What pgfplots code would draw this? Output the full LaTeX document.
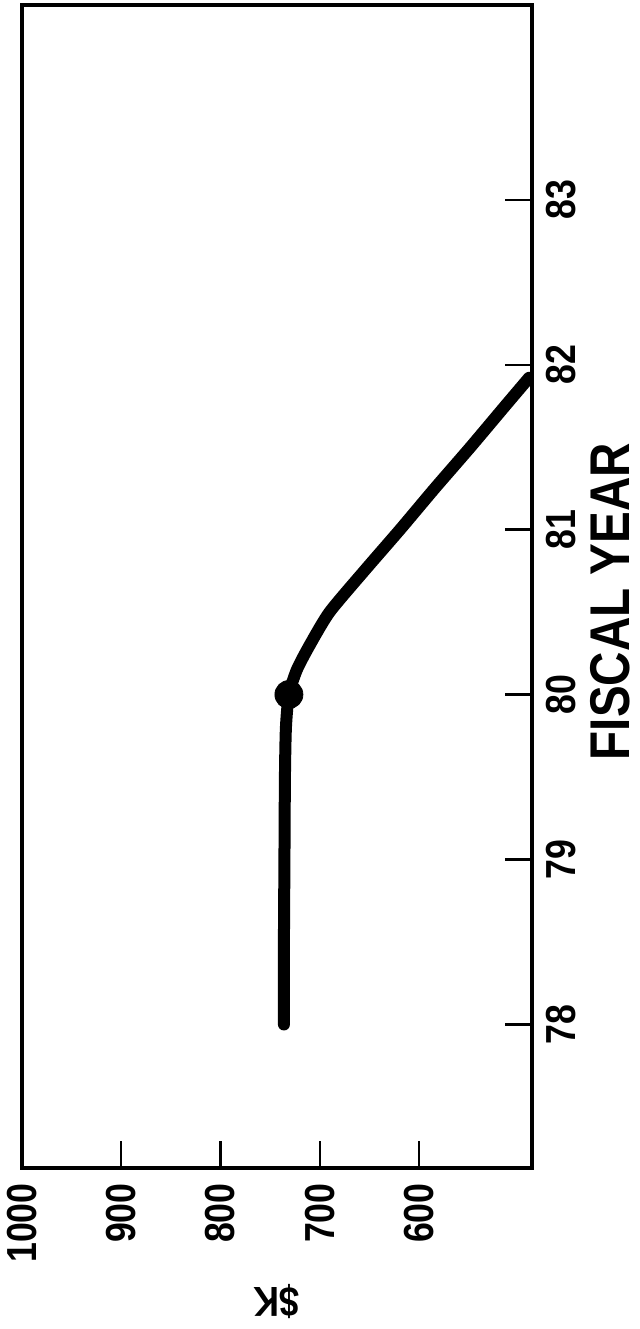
\documentclass[border=0pt]{standalone}
\usepackage{fontspec}
\setmainfont{Liberation Sans}[FakeStretch=0.85]
\usepackage{pgfplots}
\pgfplotsset{compat=1.18}

\begin{document}
\begin{tikzpicture}
% page is turned a quarter turn: $K runs left-right (reversed), fiscal year runs up
\begin{axis}[
	scale only axis,
	width=255pt, height=581.5pt,
	x dir=reverse,
	xmin=486, xmax=1000,
	ymin=77.13, ymax=84.18,
	xtick={600,700,800,900,1000},
	ytick={78,79,80,81,82,83},
	xtick pos=bottom, ytick pos=right,
	tick align=inside,
	major tick length=13.5pt,
	every tick/.style={line width=1.1pt, black},
	axis line style={line width=1.6pt},
	/pgf/number format/assume math mode=true,
	/pgf/number format/1000 sep={},
	xticklabel style={font=\fontsize{21}{21}\selectfont\bfseries, rotate=90, anchor=east, inner sep=0pt, xshift=-7.5pt},
	yticklabel style={font=\fontsize{21}{21}\selectfont\bfseries, rotate=90, anchor=north, inner sep=0pt, yshift=-7pt},
	yticklabel pos=right,
	xlabel={\$K},
	xlabel style={font=\fontsize{21}{21}\selectfont\bfseries, rotate=180, anchor=center, at={(axis description cs:0.5,-0.1152)}},
	ylabel={FISCAL YEAR},
	ylabel style={font=\fontsize{28}{28}\selectfont\bfseries, anchor=center, at={(axis description cs:1,0.487)}, yshift=-39pt},
]
\addplot[black, line width=6pt, smooth, tension=0.4, line cap=round] coordinates {
	(736,78) (736,78.5) (735.5,79) (735,79.5) (734,79.8) (731,80)
	(723,80.15) (710,80.3) (690,80.5) (655,80.75) (619,81)
	(584,81.25) (548,81.5) (513,81.75) (489,81.92)
};
\addplot[only marks, mark=*, mark size=7pt, black] coordinates {(731,80)};
\end{axis}
\path[use as bounding box] ([shift={(-11pt,-80.5pt)}]current axis.south west) rectangle ([shift={(53.5pt,2.5pt)}]current axis.north east);
\end{tikzpicture}
\end{document}
